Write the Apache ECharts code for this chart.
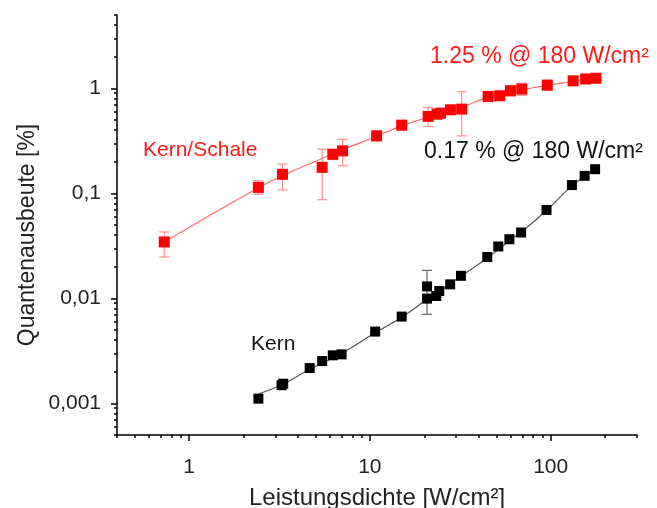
<!DOCTYPE html>
<html>
<head>
<meta charset="utf-8">
<script src="https://cdn.jsdelivr.net/npm/echarts@6/dist/echarts.min.js"></script>
<style>
  html, body { margin: 0; padding: 0; background: #fff; }
  #chart { width: 657px; height: 508px; }
</style>
</head>
<body>
<div id="chart"></div>
<script>
// Kern/Schale (red): [x, y, lower, upper]
var shellData = [
  [0.73, 0.0345, 0.0248, 0.043],
  [2.42, 0.114, 0.098, 0.132],
  [3.29, 0.152, 0.108, 0.19],
  [5.45, 0.177, 0.087, 0.264],
  [6.24, 0.236, 0.21, 0.26],
  [7.07, 0.254, 0.183, 0.328],
  [10.9, 0.353, 0.317, 0.394],
  [15.0, 0.447, 0.40, 0.49],
  [21.0, 0.541, 0.434, 0.659],
  [23.5, 0.569, 0.51, 0.63],
  [24.6, 0.581, 0.52, 0.64],
  [27.9, 0.625, 0.57, 0.68],
  [32.2, 0.635, 0.353, 0.928],
  [45.1, 0.839, 0.75, 0.93],
  [52.2, 0.85, 0.78, 0.93],
  [59.9, 0.949, 0.85, 1.06],
  [69.2, 0.985, 0.86, 1.12],
  [95.7, 1.075, 0.96, 1.19],
  [133, 1.18, 1.09, 1.27],
  [156, 1.23, 1.12, 1.32],
  [178, 1.25, 1.13, 1.37]
];
// Kern (black): [x, y]
var coreData = [
  [2.42, 0.00111], [3.25, 0.00149], [3.32, 0.00154], [4.65, 0.00217],
  [5.45, 0.00253], [6.24, 0.00287], [6.98, 0.00293], [10.7, 0.00483],
  [15.0, 0.00671], [20.7, 0.00995], [20.7, 0.0130], [23.3, 0.01054],
  [24.2, 0.01177], [27.8, 0.0136], [31.9, 0.0164], [44.6, 0.0248],
  [51.3, 0.0312], [59.1, 0.0366], [68.6, 0.0424], [94.8, 0.0696],
  [131, 0.12], [154, 0.147], [176, 0.170]
];
// Kern error bars: [x, lower, upper]
var coreErr = [[20.7, 0.00705, 0.0185]];
// fit curves
var shellFit = [
  [0.73, 0.0345], [2.42, 0.113], [3.3, 0.148], [5.45, 0.215], [7.07, 0.26],
  [10.9, 0.35], [15, 0.44], [21, 0.53], [27.9, 0.6], [32.2, 0.66],
  [45, 0.82], [52, 0.86], [60, 0.93], [69, 0.97], [96, 1.07],
  [133, 1.17], [156, 1.22], [178, 1.26]
];
var coreFit = [
  [2.42, 0.00123], [3.3, 0.00152], [4.65, 0.00211], [7, 0.0030],
  [10.7, 0.0047], [15, 0.0066], [20.7, 0.0098], [24, 0.0115],
  [32, 0.0163], [45, 0.0245], [60, 0.036], [69, 0.043],
  [95, 0.069], [131, 0.118], [176, 0.17]
];
// axis ticks
var xMajor = [1, 10, 100];
var yMajor = [0.001, 0.01, 0.1, 1];
var yLabels = ['0,001', '0,01', '0,1', '1'];
var mults = [2, 3, 4, 5, 6, 7, 8, 9];
var xMinor = [];
[0.1, 1, 10, 100].forEach(function (d) {
  mults.forEach(function (m) {
    var v = +(m * d).toPrecision(3);
    if (v >= 0.4 && v <= 300) xMinor.push(v);
  });
});
var yMinor = [];
[0.0001, 0.001, 0.01, 0.1, 1].forEach(function (d) {
  mults.forEach(function (m) {
    var v = +(m * d).toPrecision(3);
    if (v >= 0.0005 && v <= 5) yMinor.push(v);
  });
});

var font = 'Liberation Sans, Arial, sans-serif';
var X_MIN = 0.4, X_MAX = 300, Y_MIN = 0.0005, Y_MAX = 5;

function errBar(color) {
  return function (params, api) {
    var x = api.value(0);
    var top = api.coord([x, api.value(2)]);
    var bot = api.coord([x, api.value(1)]);
    var w = 5;
    var st = { stroke: color, lineWidth: 1.2 };
    return {
      type: 'group',
      children: [
        { type: 'line', shape: { x1: top[0], y1: top[1], x2: bot[0], y2: bot[1] }, style: st },
        { type: 'line', shape: { x1: top[0] - w, y1: top[1], x2: top[0] + w, y2: top[1] }, style: st },
        { type: 'line', shape: { x1: bot[0] - w, y1: bot[1], x2: bot[0] + w, y2: bot[1] }, style: st }
      ]
    };
  };
}

var chart = echarts.init(document.getElementById('chart'));
chart.setOption({
  animation: false,
  textStyle: { fontFamily: font },
  grid: { left: 117, right: 20, top: 15, bottom: 73, outerBoundsMode: 'none', containLabel: false },
  xAxis: [
    {
      type: 'log', min: X_MIN, max: X_MAX, position: 'bottom',
      name: 'Leistungsdichte [W/cm²]', nameLocation: 'middle', nameGap: 51,
      nameTextStyle: { fontSize: 24, color: '#222', fontFamily: font },
      axisLine: { lineStyle: { color: '#000', width: 1.5 } },
      axisTick: { customValues: xMajor, length: 6, lineStyle: { color: '#000', width: 1.5 } },
      axisLabel: { customValues: xMajor, fontSize: 21, color: '#222', margin: 22, fontFamily: font },
      splitLine: { show: false }
    },
    {
      type: 'log', min: X_MIN, max: X_MAX, position: 'bottom',
      axisLine: { show: false },
      axisTick: { customValues: xMinor, length: 3, lineStyle: { color: '#000', width: 1.5 } },
      axisLabel: { show: false },
      splitLine: { show: false }
    }
  ],
  yAxis: [
    {
      type: 'log', min: Y_MIN, max: Y_MAX, position: 'left',
      axisLine: { show: true, lineStyle: { color: '#000', width: 1.5 } },
      axisTick: { customValues: yMajor, length: 6, lineStyle: { color: '#000', width: 1.5 } },
      axisLabel: {
        customValues: yMajor, fontSize: 21, color: '#222', margin: 16, fontFamily: font,
        formatter: function (v) {
          var i = yMajor.findIndex(function (m) { return Math.abs(m - v) / m < 1e-6; });
          return i >= 0 ? yLabels[i] : '';
        }
      },
      splitLine: { show: false }
    },
    {
      type: 'log', min: Y_MIN, max: Y_MAX, position: 'left',
      axisLine: { show: false },
      axisTick: { customValues: yMinor, length: 3, lineStyle: { color: '#000', width: 1.5 } },
      axisLabel: { show: false },
      splitLine: { show: false }
    }
  ],
  series: [
    {
      type: 'line', data: shellFit, showSymbol: false, smooth: true,
      lineStyle: { color: '#ff6a6a', width: 1.2 }, z: 1, silent: true
    },
    {
      type: 'line', data: coreFit, showSymbol: false, smooth: true,
      lineStyle: { color: '#555', width: 1.2 }, z: 1, silent: true
    },
    {
      type: 'custom', data: shellData.map(function (d) { return [d[0], d[2], d[3]]; }),
      renderItem: errBar('#ff8c8c'), z: 2, silent: true
    },
    {
      type: 'custom', data: coreErr,
      renderItem: errBar('#666'), z: 2, silent: true
    },
    {
      type: 'scatter', data: shellData.map(function (d) { return [d[0], d[1]]; }),
      symbol: 'rect', symbolSize: 11, itemStyle: { color: '#ff0000', opacity: 1 }, z: 3
    },
    {
      type: 'scatter', data: coreData,
      symbol: 'rect', symbolSize: 10, itemStyle: { color: '#000', opacity: 1 }, z: 3
    }
  ],
  graphic: [
    { type: 'text', x: 28, y: 235, rotation: Math.PI / 2, style: { text: 'Quantenausbeute [%]', fontSize: 23, fill: '#222', fontFamily: font, align: 'center', verticalAlign: 'middle' } },
    { type: 'text', left: 430, top: 45, style: { text: '1.25 % @ 180 W/cm²', fontSize: 23, fill: '#ff1a1a', fontFamily: font } },
    { type: 'text', left: 424, top: 140, style: { text: '0.17 % @ 180 W/cm²', fontSize: 23, fill: '#111', fontFamily: font } },
    { type: 'text', left: 143, top: 140, style: { text: 'Kern/Schale', fontSize: 21, fill: '#ff1a1a', fontFamily: font } },
    { type: 'text', left: 251, top: 334, style: { text: 'Kern', fontSize: 21, fill: '#111', fontFamily: font } }
  ]
});
</script>
</body>
</html>
